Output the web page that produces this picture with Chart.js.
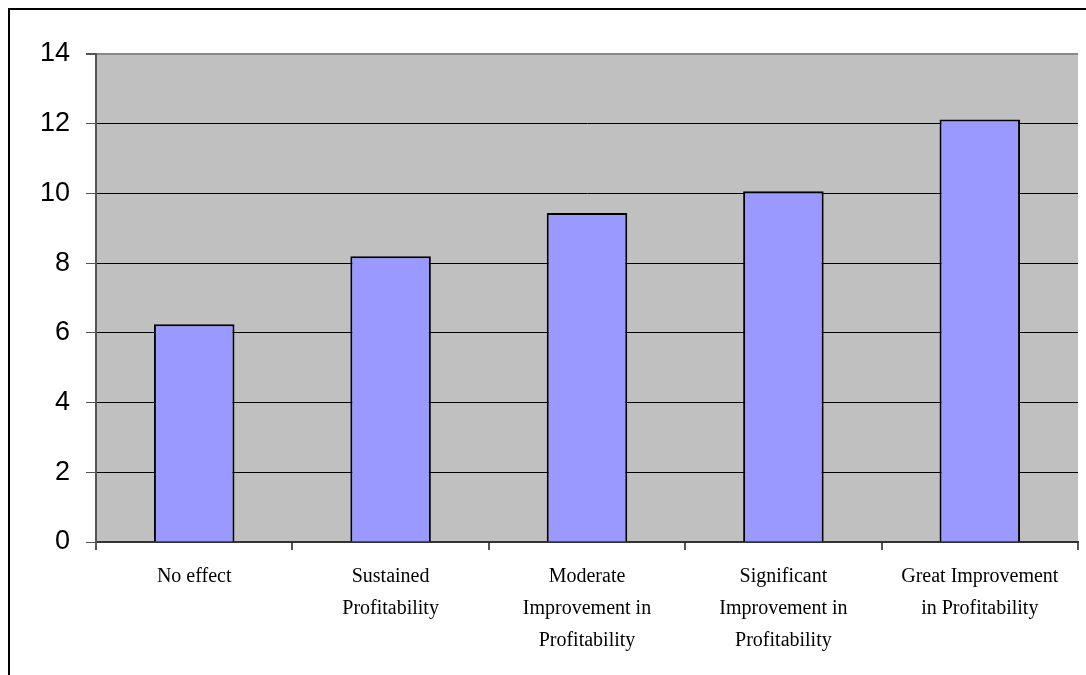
<!DOCTYPE html>
<html>
<head>
<meta charset="utf-8">
<script src="https://cdn.jsdelivr.net/npm/chart.js@4"></script>
<style>
	html, body { margin: 0; padding: 0; background: #fff; overflow: hidden; }
	#frame { position: absolute; left: 8px; top: 8px; width: 1200px; height: 800px; border: 2px solid #000; }
	#wrap { position: absolute; left: 0; top: 0; width: 1086px; height: 675px; }
</style>
</head>
<body>
<div id="frame"></div>
<div id="wrap"><canvas id="chart-profit"></canvas></div>
<script>
// Data
const categories = [
	['No effect'],
	['Sustained', 'Profitability'],
	['Moderate', 'Improvement in', 'Profitability'],
	['Significant', 'Improvement in', 'Profitability'],
	['Great Improvement', 'in Profitability'],
];
const values = [6.25, 8.2, 9.44, 10.06, 12.12];
const yTicks = [0, 2, 4, 6, 8, 10, 12, 14];

// grey plot background
const plotBg = {
	id: 'plotBg',
	beforeDraw(chart) {
		const { ctx, chartArea: a } = chart;
		ctx.save();
		ctx.fillStyle = '#C0C0C0';
		ctx.fillRect(a.left, a.top, a.right - a.left, a.bottom - a.top);
		ctx.restore();
	},
};

!(function () {
	const ctx = document.getElementById('chart-profit');

	new Chart(ctx, {
		type: 'bar',
		data: {
			labels: categories,
			datasets: [
				{
					data: values,
					backgroundColor: '#9999FF',
					borderColor: '#000',
					borderWidth: 2,
					barPercentage: 0.41,
					categoryPercentage: 1,
				},
			],
		},
		options: {
			responsive: true,
			maintainAspectRatio: false,
			animation: false,
			layout: {
				padding: { top: 54, right: 8, left: 0, bottom: 0 },
			},
			plugins: {
				legend: { display: false },
				tooltip: { enabled: false },
			},
			scales: {
				x: {
					offset: true,
					afterFit(scale) {
						scale.height = 133;
					},
					border: { color: '#333', width: 2 },
					grid: {
						offset: true,
						drawOnChartArea: true,
						tickLength: 8,
						tickColor: '#555',
						color: (c) => (c.index === categories.length ? '#888' : 'rgba(0,0,0,0)'),
						lineWidth: 2,
					},
					ticks: {
						autoSkip: false,
						maxRotation: 0,
						padding: 11,
						color: '#000',
						font: { family: '"Liberation Serif", "Times New Roman", serif', size: 20, lineHeight: 1.6 },
					},
				},
				y: {
					min: 0,
					max: 14,
					afterFit(scale) {
						scale.width = 96;
					},
					afterBuildTicks(scale) {
						scale.ticks = yTicks.map((v) => ({ value: v }));
					},
					border: { color: '#555', width: 2 },
					grid: {
						tickLength: 10,
						tickColor: '#555',
						color: (c) => (c.tick && c.tick.value === 14 ? '#888' : '#000'),
						lineWidth: (c) => (c.tick && c.tick.value === 14 ? 2 : 1),
					},
					ticks: {
						padding: 16,
						color: '#000',
						font: { family: '"Liberation Sans", Arial, sans-serif', size: 27 },
					},
				},
			},
		},
		plugins: [plotBg],
	});
})();
</script>
</body>
</html>
